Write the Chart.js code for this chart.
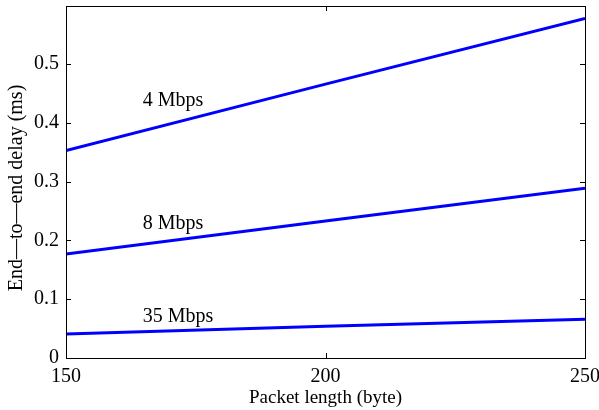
<!DOCTYPE html>
<html>
<head>
<meta charset="utf-8">
<script src="https://cdn.jsdelivr.net/npm/chart.js@4/dist/chart.umd.min.js"></script>
<style>
  html, body { margin: 0; padding: 0; background: #fff; }
  #wrap { width: 599px; height: 410px; position: relative; }
</style>
</head>
<body>
<div id="wrap"><canvas id="c" width="599" height="410"></canvas></div>
<script>
// Packet lengths (bytes) at which the delay is plotted
const packetLength = [150, 200, 250];
// End-to-end delay (ms) for each link rate
const delay4Mbps  = [0.353, 0.466, 0.578];
const delay8Mbps  = [0.177, 0.233, 0.289];
const delay35Mbps = [0.041, 0.054, 0.066];
// Rate labels placed beside each line, given in data units
const rateLabels = ['4 Mbps', '8 Mbps', '35 Mbps'];
const rateLabelX = [164.8, 164.8, 164.8];
const rateLabelY = [0.4375, 0.228, 0.071];
// Axis ticks
const xTicks = [150, 200, 250];
const yTicks = [0, 0.1, 0.2, 0.3, 0.4, 0.5];
const yTitle = 'End\u2014to\u2014end delay (ms)';

const FONT = "'Liberation Serif', 'Times New Roman', serif";

function toPoints(ys) {
  return packetLength.map((x, i) => ({ x: x, y: ys[i] }));
}

const seriesStyle = {
  borderColor: '#0000ff',
  backgroundColor: '#0000ff',
  borderWidth: 3,
  pointRadius: 0,
  showLine: true,
  fill: false,
  tension: 0
};

// Box around the plot with inward tick marks on all four sides, rate labels and the y title
const boxPlugin = {
  id: 'boxTicks',
  afterDatasetsDraw(chart) {
    const { ctx, chartArea: a, scales } = chart;
    const xs = scales.x, ys = scales.y;
    ctx.save();
    ctx.strokeStyle = '#000';
    ctx.lineWidth = 1;
    const L = 5;
    ctx.beginPath();
    xTicks.forEach(v => {
      const px = Math.round(xs.getPixelForValue(v)) + 0.5;
      ctx.moveTo(px, a.bottom); ctx.lineTo(px, a.bottom - L);
      ctx.moveTo(px, a.top); ctx.lineTo(px, a.top + L);
    });
    yTicks.forEach(v => {
      const py = Math.round(ys.getPixelForValue(v)) + 0.5;
      ctx.moveTo(a.left, py); ctx.lineTo(a.left + L, py);
      ctx.moveTo(a.right, py); ctx.lineTo(a.right - L, py);
    });
    ctx.stroke();
    ctx.strokeRect(Math.round(a.left) + 0.5, Math.round(a.top) + 0.5,
                   Math.round(a.right - a.left), Math.round(a.bottom - a.top));

    ctx.fillStyle = '#000';
    ctx.font = '20px ' + FONT;
    ctx.textAlign = 'left';
    ctx.textBaseline = 'middle';
    rateLabels.forEach((t, i) => {
      ctx.fillText(t, xs.getPixelForValue(rateLabelX[i]), ys.getPixelForValue(rateLabelY[i]));
    });

    // vertical axis title, a little below the plot's middle
    ctx.translate(17, (a.top + a.bottom) / 2 + 6);
    ctx.rotate(-Math.PI / 2);
    ctx.textAlign = 'center';
    ctx.fillText(yTitle, 0, 0);
    ctx.restore();
  }
};

new Chart(document.getElementById('c'), {
  type: 'scatter',
  data: {
    datasets: [
      Object.assign({ label: '4 Mbps', data: toPoints(delay4Mbps) }, seriesStyle),
      Object.assign({ label: '8 Mbps', data: toPoints(delay8Mbps) }, seriesStyle),
      Object.assign({ label: '35 Mbps', data: toPoints(delay35Mbps) }, seriesStyle)
    ]
  },
  options: {
    responsive: false,
    animation: false,
    layout: { padding: { left: 0, right: 14, top: 6, bottom: 0 } },
    plugins: { legend: { display: false }, tooltip: { enabled: false } },
    scales: {
      x: {
        type: 'linear',
        min: 150, max: 250,
        afterBuildTicks: s => { s.ticks = xTicks.map(v => ({ value: v })); },
        afterFit: s => { s.height = 52; s.paddingLeft = 0; s.paddingRight = 0; },
        grid: { display: false, drawTicks: false },
        border: { display: false },
        ticks: { color: '#000', font: { family: FONT, size: 20 }, padding: 7, maxRotation: 0 },
        title: { display: true, text: 'Packet length (byte)', color: '#000',
                 font: { family: FONT, size: 19 }, padding: { top: 0, bottom: 1 } }
      },
      y: {
        type: 'linear',
        min: 0, max: 0.599,
        afterBuildTicks: s => { s.ticks = yTicks.map(v => ({ value: v })); },
        afterFit: s => { s.width = 66; s.paddingTop = 0; s.paddingBottom = 0; },
        grid: { display: false, drawTicks: false },
        border: { display: false },
        ticks: { color: '#000', font: { family: FONT, size: 20 }, padding: 7,
                 callback: v => (v === 0 ? '0' : v.toFixed(1)) },
        title: { display: false }
      }
    }
  },
  plugins: [boxPlugin]
});
</script>
</body>
</html>
